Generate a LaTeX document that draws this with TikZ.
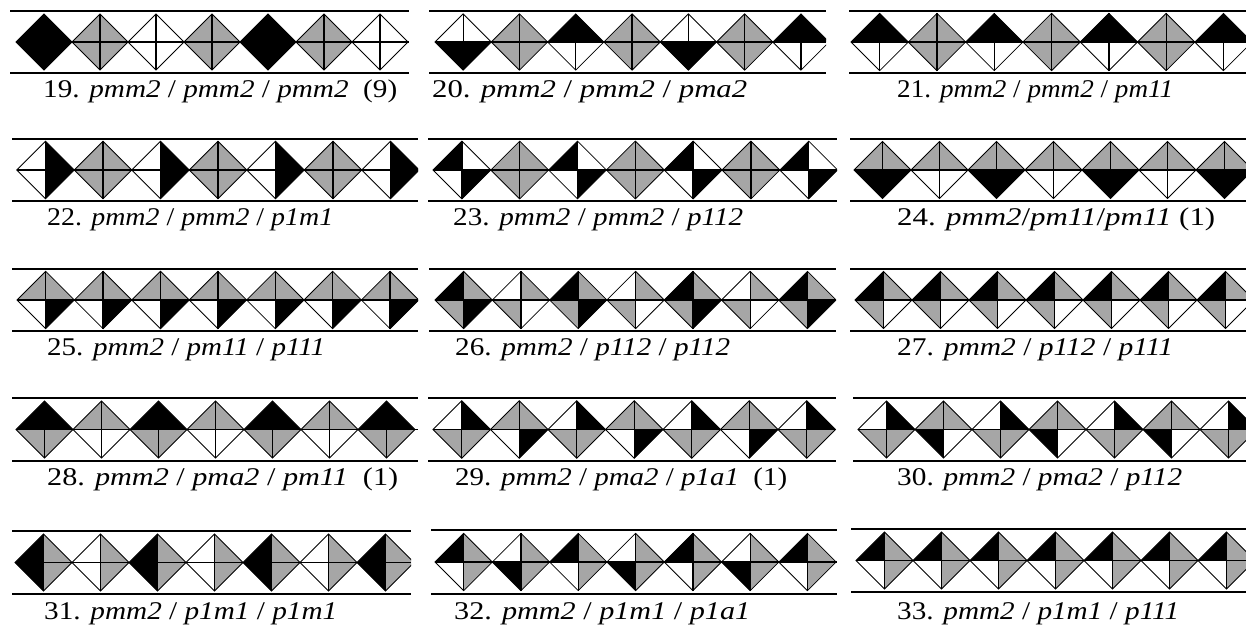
\documentclass[tikz,border=0pt]{standalone}
\usepackage{fontspec}
\setmainfont{Liberation Serif}
\usepackage{graphicx}
\definecolor{cK}{RGB}{0,0,0}
\definecolor{cG}{RGB}{166,166,166}
\definecolor{cW}{RGB}{255,255,255}
\tikzset{
  dline/.style={draw=black,line width=0.8pt,line join=miter},
  vline/.style={draw=black,line width=1.3pt},
  hline/.style={draw=black,line width=1.8pt},
  bline/.style={draw=black,line width=2.8pt},
  lab/.style={anchor=base west,inner sep=0pt,font=\fontsize{25.5}{29}\selectfont}
}
\newcommand\dmd[7]{%
  \fill[c#4] (#1-#3,#2) -- (#1,#2-#3) -- (#1,#2) -- cycle;
  \fill[c#5] (#1+#3,#2) -- (#1,#2-#3) -- (#1,#2) -- cycle;
  \fill[c#6] (#1-#3,#2) -- (#1,#2+#3) -- (#1,#2) -- cycle;
  \fill[c#7] (#1+#3,#2) -- (#1,#2+#3) -- (#1,#2) -- cycle;
  \draw[dline] (#1-#3,#2) -- (#1,#2-#3) -- (#1+#3,#2) -- (#1,#2+#3) -- cycle;
  \draw[vline] (#1,#2-#3) -- (#1,#2+#3);
}
% panel: #1 xL, #2 xR, #3 x0, #4 w, #5 ytop, #6 ybot, #7 specs
\newcommand\drawpanel[7]{%
  \pgfmathsetmacro\hh{#4/2}
  \pgfmathsetmacro\yc{(#5+#6)/2}
  \begin{scope}
    \clip (#1,#5-5) rectangle (#2,#6+5);
    \foreach \a/\b/\c/\d [count=\i from 0] in {#7} {
      \pgfmathsetmacro\cx{#3+\hh+\i*#4}
      \dmd{\cx}{\yc}{\hh}{\a}{\b}{\c}{\d}
    }
    \draw[hline] (#3,\yc) -- (#2,\yc);
  \end{scope}
  \draw[bline] (#1,#5) -- (#2,#5) (#1,#6) -- (#2,#6);
}
\newcommand\gi{\textit}
\begin{document}
\begin{tikzpicture}[x=1pt,y=-1pt]
\fill[white] (0,0) rectangle (1246,625);
\useasboundingbox (0,0) rectangle (1246,625);
% Row 1
\drawpanel{10}{409}{16}{56}{11}{73}{K/K/K/K,G/G/G/G,W/W/W/W,G/G/G/G,K/K/K/K,G/G/G/G,W/W/W/W}
\drawpanel{429}{826}{435}{56.3}{11}{73}{W/W/K/K,G/G/G/G,K/K/W/W,G/G/G/G,W/W/K/K,G/G/G/G,K/K/W/W}
\drawpanel{849}{1246}{851}{57.3}{11}{73}{K/K/W/W,G/G/G/G,K/K/W/W,G/G/G/G,K/K/W/W,G/G/G/G,K/K/W/W}
% Row 2
\drawpanel{12}{418}{16.7}{57.5}{139}{201}{W/K/W/K,G/G/G/G,W/K/W/K,G/G/G/G,W/K/W/K,G/G/G/G,W/K/W/K}
\drawpanel{428}{837}{433}{57.8}{139}{201}{K/W/W/K,G/G/G/G,K/W/W/K,G/G/G/G,K/W/W/K,G/G/G/G,K/W/W/K}
\drawpanel{850}{1246}{854}{57}{139}{201}{G/G/K/K,G/G/W/W,G/G/K/K,G/G/W/W,G/G/K/K,G/G/W/W,G/G/K/K}
% Row 3
\drawpanel{12}{418}{17}{57.4}{269}{331}{G/G/W/K,G/G/W/K,G/G/W/K,G/G/W/K,G/G/W/K,G/G/W/K,G/G/W/K}
\drawpanel{429}{836}{435}{57.3}{269}{331}{K/G/G/K,W/G/G/W,K/G/G/K,W/G/G/W,K/G/G/K,W/G/G/W,K/G/G/K}
\drawpanel{850}{1246}{855}{57}{269}{331}{K/G/G/W,K/G/G/W,K/G/G/W,K/G/G/W,K/G/G/W,K/G/G/W,K/G/G/W}
% Row 4
\drawpanel{12}{418}{16}{57}{398}{461}{K/K/G/G,G/G/W/W,K/K/G/G,G/G/W/W,K/K/G/G,G/G/W/W,K/K/G/G}
\drawpanel{428}{836}{433}{57.5}{398}{461}{W/K/G/G,G/G/W/K,W/K/G/G,G/G/W/K,W/K/G/G,G/G/W/K,W/K/G/G}
\drawpanel{853}{1246}{858}{57}{398}{461}{W/K/G/G,G/G/K/W,W/K/G/G,G/G/K/W,W/K/G/G,G/G/K/W,W/K/G/G}
% Row 5
\drawpanel{12}{411}{15}{57}{531}{594}{K/G/K/G,W/G/W/G,K/G/K/G,W/G/W/G,K/G/K/G,W/G/W/G,K/G/K/G}
\drawpanel{431}{837}{435}{57.3}{530}{594}{K/G/W/G,W/G/K/G,K/G/W/G,W/G/K/G,K/G/W/G,W/G/K/G,K/G/W/G}
\drawpanel{851}{1246}{856}{57}{529}{592}{K/G/W/G,K/G/W/G,K/G/W/G,K/G/W/G,K/G/W/G,K/G/W/G,K/G/W/G}
% Labels
\node[lab] (l19) at (43,97) {\resizebox{354pt}{\height}{19. \gi{pmm2} / \gi{pmm2} / \gi{pmm2}\ \ (9)}};
\node[lab] (l20) at (432,97) {\resizebox{315pt}{\height}{20. \gi{pmm2} / \gi{pmm2} / \gi{pma2}}};
\node[lab] (l21) at (897,97) {\resizebox{276pt}{\height}{21. \gi{pmm2} / \gi{pmm2} / \gi{pm11}}};
\node[lab] (l22) at (47,225) {\resizebox{286pt}{\height}{22. \gi{pmm2} / \gi{pmm2} / \gi{p1m1}}};
\node[lab] (l23) at (453,225) {\resizebox{290pt}{\height}{23. \gi{pmm2} / \gi{pmm2} / \gi{p112}}};
\node[lab] (l24) at (897,225) {\resizebox{318pt}{\height}{24. \gi{pmm2}/\gi{pm11}/\gi{pm11} (1)}};
\node[lab] (l25) at (47,355) {\resizebox{278pt}{\height}{25. \gi{pmm2} / \gi{pm11} / \gi{p111}}};
\node[lab] (l26) at (455,355) {\resizebox{275pt}{\height}{26. \gi{pmm2} / \gi{p112} / \gi{p112}}};
\node[lab] (l27) at (897,355) {\resizebox{276pt}{\height}{27. \gi{pmm2} / \gi{p112} / \gi{p111}}};
\node[lab] (l28) at (47,485) {\resizebox{351pt}{\height}{28. \gi{pmm2} / \gi{pma2} / \gi{pm11}\ \ (1)}};
\node[lab] (l29) at (455,485) {\resizebox{332pt}{\height}{29. \gi{pmm2} / \gi{pma2} / \gi{p1a1}\ \ (1)}};
\node[lab] (l30) at (897,485) {\resizebox{285pt}{\height}{30. \gi{pmm2} / \gi{pma2} / \gi{p112}}};
\node[lab] (l31) at (44,619) {\resizebox{293pt}{\height}{31. \gi{pmm2} / \gi{p1m1} / \gi{p1m1}}};
\node[lab] (l32) at (454,619) {\resizebox{296pt}{\height}{32. \gi{pmm2} / \gi{p1m1} / \gi{p1a1}}};
\node[lab] (l33) at (897,619) {\resizebox{282pt}{\height}{33. \gi{pmm2} / \gi{p1m1} / \gi{p111}}};
\end{tikzpicture}
\end{document}
